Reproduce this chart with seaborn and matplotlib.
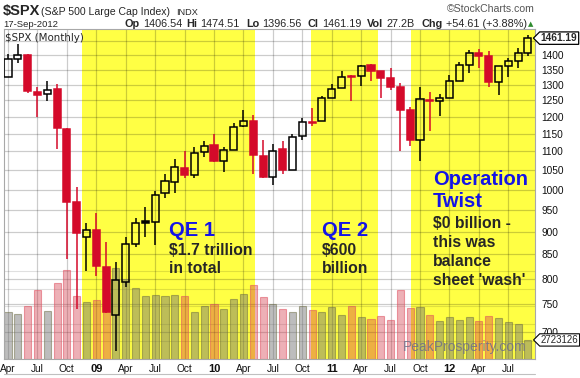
import matplotlib
matplotlib.use("Agg")
import matplotlib.pyplot as plt  # noqa: E402
import matplotlib.transforms as mtransforms  # noqa: E402
from matplotlib.colors import to_rgba  # noqa: E402
from matplotlib.lines import Line2D  # noqa: E402
from matplotlib.path import Path  # noqa: E402
from matplotlib.ticker import FixedLocator, NullLocator  # noqa: E402
import numpy as np  # noqa: E402
import pandas as pd  # noqa: E402
import seaborn as sns  # noqa: E402

# monthly candles, Apr-2008 .. Sep-2012
months = pd.date_range("2008-04-01", "2012-09-01", freq="MS").strftime("%b-%Y").tolist()
opens = [1326.41, 1385.97, 1399.62, 1276.69, 1269.42, 1287.83, 1164.17, 968.67, 888.61,
         902.99, 823.09, 729.57, 793.59, 872.74, 923.26, 920.82, 990.22, 1019.52, 1054.91,
         1036.18, 1098.89, 1116.56, 1073.89, 1105.36, 1171.23, 1188.58, 1087.30, 1031.10,
         1107.53, 1049.72, 1143.49, 1185.71, 1186.60, 1257.62, 1289.14, 1328.64, 1329.48,
         1365.21, 1345.20, 1320.64, 1292.59, 1219.12, 1131.21, 1251.00, 1246.91, 1258.86,
         1312.45, 1365.90, 1408.47, 1397.86, 1309.87, 1362.33, 1379.32, 1406.54]
highs = [1404.05, 1440.24, 1404.05, 1292.17, 1313.15, 1303.04, 1167.03, 1007.51, 918.85,
         943.85, 877.86, 832.98, 888.70, 930.17, 956.23, 996.68, 1039.47, 1080.15, 1101.36,
         1113.69, 1130.38, 1150.45, 1112.42, 1180.16, 1219.80, 1205.13, 1131.23, 1120.95,
         1129.24, 1148.67, 1196.14, 1227.08, 1262.60, 1302.67, 1344.07, 1332.28, 1366.27,
         1370.58, 1345.20, 1356.48, 1307.38, 1229.29, 1292.66, 1277.55, 1269.37, 1333.47,
         1378.04, 1419.15, 1422.38, 1415.32, 1363.46, 1391.74, 1426.68, 1474.51]
lows = [1324.35, 1373.07, 1272.00, 1200.44, 1248.64, 1106.39, 839.80, 741.02, 815.69,
        804.30, 734.52, 666.79, 783.32, 866.10, 888.86, 869.32, 978.51, 991.97, 1029.38,
        1029.38, 1085.89, 1071.59, 1044.50, 1105.36, 1170.69, 1040.78, 1028.33, 1010.91,
        1039.70, 1049.72, 1131.87, 1173.00, 1186.60, 1257.62, 1289.14, 1249.05, 1294.70,
        1311.80, 1258.07, 1282.86, 1101.54, 1114.22, 1074.77, 1158.66, 1202.37, 1258.86,
        1312.45, 1340.03, 1357.38, 1291.98, 1266.74, 1325.41, 1354.65, 1396.56]
closes = [1385.59, 1400.38, 1280.00, 1267.38, 1282.83, 1166.36, 968.75, 896.24, 903.25,
          825.88, 735.09, 797.87, 872.81, 919.14, 919.32, 987.48, 1020.62, 1057.08, 1036.19,
          1095.63, 1115.10, 1073.87, 1104.49, 1169.43, 1186.69, 1089.41, 1030.71, 1101.60,
          1049.33, 1141.20, 1183.26, 1180.55, 1257.64, 1286.12, 1327.22, 1325.83, 1363.61,
          1345.20, 1320.64, 1292.28, 1218.89, 1131.42, 1253.30, 1246.96, 1257.60, 1312.41,
          1365.68, 1408.47, 1397.91, 1310.33, 1362.16, 1379.32, 1406.58, 1461.19]
prev_close_start = 1322.70
# monthly volume, billions
volume_b = [67, 64, 76, 99, 69, 109, 127, 90, 82, 84, 94, 130, 114, 102, 90, 92, 90, 92,
            90, 67, 76, 79, 72, 86, 93, 106, 89, 79, 72, 67, 76, 70, 67, 74, 63, 76, 60,
            57, 61, 56, 99, 73, 74, 63, 54, 60, 56, 60, 54, 61, 59, 53, 50, 27.2]

tick_idx = [0, 3, 6, 9, 12, 15, 18, 21, 24, 27, 30, 33, 36, 39, 42, 45, 48, 51]
tick_labels = ["Apr", "Jul", "Oct", "09", "Apr", "Jul", "Oct", "10", "Apr", "Jul", "Oct",
               "11", "Apr", "Jul", "Oct", "12", "Apr", "Jul"]
year_labels = {"09", "10", "11", "12"}
price_ticks = list(range(700, 1451, 50))
vol_grid = [25, 50, 75, 100, 125]
# QE periods in month positions
qe_spans = [(7.5, 25.2), (30.9, 37.7), (41.1, 54.0)]

RED = "#d40a2a"
BLUE = "#1414e6"
YELLOW = "#ffff44"

sns.set_theme(style="white")
plt.rcParams["font.family"] = ["Liberation Sans", "DejaVu Sans"]

n = len(closes)
prev = [prev_close_start] + closes[:-1]
down = [c < p for c, p in zip(closes, prev)]
df = pd.DataFrame({"m": np.arange(n), "vol": volume_b,
                   "dir": ["down" if d else "up" for d in down]})

W, H = 580, 378
fig = plt.figure(figsize=(W / 100, H / 100), dpi=100)
L, R, T, B = 3.5, 535, 29, 359
vax = fig.add_axes([L / W, 1 - B / H, (R - L) / W, (B - T) / H])
ax = vax.twinx()

# background spans and grid on the lower (volume) axes
for a, b in qe_spans:
    vax.axvspan(a, b, color=YELLOW, lw=0, zorder=0)
grid_kw = dict(color="black", alpha=0.2, lw=0.9, zorder=1)
for t in tick_idx:
    vax.axvline(t, **grid_kw)
for v in vol_grid:
    vax.axhline(v, color="black", alpha=0.12, lw=0.8, zorder=1)

ax.set_yscale("log")
ax.set_ylim(654, 1495)
blend = mtransforms.blended_transform_factory(vax.transAxes, ax.transData)
for p in price_ticks:
    vax.plot([0, 1], [p, p], transform=blend, **grid_kw)

# volume bars
n_before = len(vax.patches)
sns.barplot(data=df, x="m", y="vol", hue="dir", palette={"up": "#707070", "down": "#d03040"},
            native_scale=True, dodge=False, width=0.72, errorbar=None, legend=False,
            saturation=1, ax=vax, zorder=2)
for bar in vax.patches[n_before:]:
    i = int(round(bar.get_x() + bar.get_width() / 2))
    if down[i]:
        bar.set_facecolor(to_rgba("#d03040", 0.38))
        bar.set_edgecolor(to_rgba("#e05060", 0.55))
    else:
        bar.set_facecolor(to_rgba("#707070", 0.46))
        bar.set_edgecolor(to_rgba("#6a6a40", 0.5))
    bar.set_linewidth(0.8)
vax.set_ylim(0, 471)
vax.set_xlabel("")
vax.set_ylabel("")
vax.set_yticks([])

# candles
for i, (o, h, lo, c) in enumerate(zip(opens, highs, lows, closes)):
    col = RED if down[i] else "black"
    bot, top = min(o, c), max(o, c)
    ax.vlines(i, lo, bot, color=col, lw=1.1, zorder=3)
    ax.vlines(i, top, h, color=col, lw=1.1, zorder=3)
    ax.bar(i, top - bot, bottom=bot, width=0.72, facecolor=col if c < o else "none",
           edgecolor=col, lw=1.1, zorder=4)

vax.set_xlim(-0.46, 53.72)
ax.yaxis.set_major_locator(FixedLocator(price_ticks))
ax.yaxis.set_minor_locator(NullLocator())
ax.set_yticklabels([str(p) if p < 1450 else "" for p in price_ticks])
ax.tick_params(axis="y", length=0, pad=4.5, labelsize=7.3, colors="#111111")
vax.set_xticks(tick_idx)
vax.set_xticklabels(tick_labels)
vax.tick_params(axis="x", length=0, pad=3.5, labelsize=7.3, colors="#111111")
for lab in vax.get_xticklabels():
    if lab.get_text() in year_labels:
        lab.set_fontweight("bold")
        lab.set_fontsize(8)
for s in ax.spines.values():
    s.set_visible(False)
for s in vax.spines.values():
    s.set_color("#a8a8a8")
    s.set_linewidth(0.8)


def tag_box(x0, y0, width, height, mutation_size):
    pad = mutation_size * 0.12
    x0, y0 = x0 - pad, y0 - pad
    w, h = width + 2 * pad, height + 2 * pad
    tip = h * 0.5
    return Path([(x0, y0), (x0 + w, y0), (x0 + w, y0 + h), (x0, y0 + h),
                 (x0 - tip, y0 + h / 2), (x0, y0)], closed=True)


ax.text(1.011, closes[-1], f"{closes[-1]:.2f}", transform=ax.get_yaxis_transform(),
        ha="left", va="center", fontsize=7.3, fontweight="bold", zorder=6,
        bbox=dict(boxstyle=tag_box, fc="white", ec="black", lw=0.9), clip_on=False)
vol_blend = mtransforms.blended_transform_factory(ax.transAxes, vax.transData)
ax.text(1.011, volume_b[-1], "2723126", transform=vol_blend,
        ha="left", va="center", fontsize=6.9, zorder=6,
        bbox=dict(boxstyle=tag_box, fc="white", ec="black", lw=0.8), clip_on=False)


def ftext(x, y, s, **kw):
    fig.text(x / W, 1 - y / H, s, va="baseline", ha="left", **kw)


# header
ftext(3, 15.5, "$SPX", fontsize=10.5, fontweight="bold")
ftext(41, 15, "(S&P 500 Large Cap Index)", fontsize=7.6)
ftext(176, 15, "INDX", fontsize=6.6)
ftext(3, 27, "17-Sep-2012", fontsize=6.8)
hdr = [(125, "Op", True), (143, "1406.54", False), (186, "Hi", True), (200, "1474.51", False),
       (246, "Lo", True), (262, "1396.56", False), (308, "Cl", True), (322, "1461.19", False),
       (367, "Vol", True), (387, "27.2B", False), (422, "Chg", True),
       (446, "+54.61 (+3.88%)", False)]
for x, s, b in hdr:
    ftext(x, 27, s, fontsize=7.8, fontweight="bold" if b else "normal")
ftext(528, 26.5, "▲", fontsize=5, color="#2e8b2e", family=["DejaVu Sans"])
ftext(447, 12.5, "©StockCharts.com", fontsize=7.6, color="#555555")
ftext(5, 41, "$SPX (Monthly)", fontsize=7.4, family=["DejaVu Sans"])

# QE annotations
ftext(169, 236, "QE 1", fontsize=14.5, fontweight="bold", color=BLUE)
ftext(169, 255, "$1.7 trillion", fontsize=11.3, fontweight="bold")
ftext(169, 273, "in total", fontsize=11.3, fontweight="bold")
ftext(322, 236, "QE 2", fontsize=14.5, fontweight="bold", color=BLUE)
ftext(322, 255, "$600", fontsize=11.3, fontweight="bold")
ftext(322, 273, "billion", fontsize=11.3, fontweight="bold")
ftext(433, 185, "Operation", fontsize=14.5, fontweight="bold", color=BLUE)
ftext(433, 207, "Twist", fontsize=14.5, fontweight="bold", color=BLUE)
ftext(433, 228, "$0 billion -", fontsize=11.3, fontweight="bold")
ftext(433, 247, "this was", fontsize=11.3, fontweight="bold")
ftext(433, 266, "balance", fontsize=11.3, fontweight="bold")
ftext(433, 285, "sheet 'wash'", fontsize=11.3, fontweight="bold")

# watermark and lower rule
ftext(403, 351, "PeakProsperity.com", fontsize=10, color="#70708a", alpha=0.85)
fig.add_artist(Line2D([L / W, R / W], [1 - 374 / H, 1 - 374 / H], color="#c0c0c0", lw=0.8))

fig.savefig("out.png", dpi=100)
